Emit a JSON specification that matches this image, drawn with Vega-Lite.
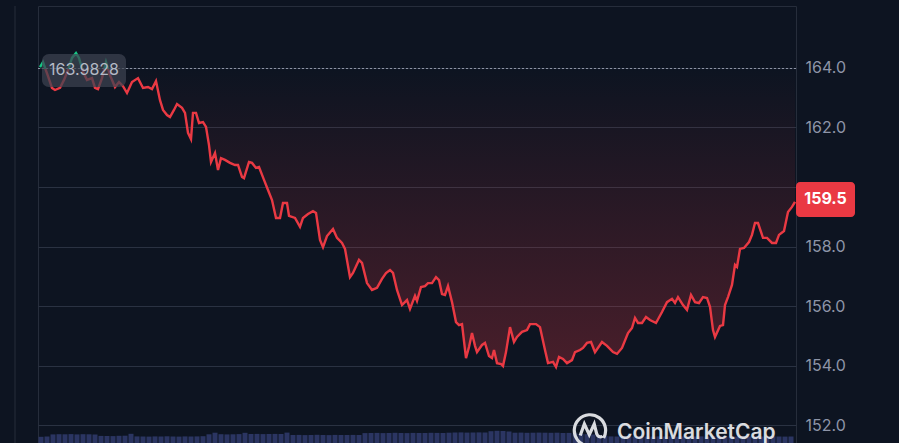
{
"$schema": "https://vega.github.io/schema/vega-lite/v6.json",
"width": 758, "height": 437,
"autosize": {"type": "none"},
"padding": {"left": 38, "top": 6, "right": 103, "bottom": 0},
"background": "#0d1421",
"config": {"view": {"stroke": "#262d3b", "strokeWidth": 1}, "font": "Inter"},
"datasets": {
"price": [
{"t":40,"p":164.03},{"t":43,"p":164.20},{"t":48,"p":163.73},{"t":52,"p":163.33},{"t":55,"p":163.26},{"t":60,"p":163.33},{"t":64,"p":163.60},{"t":68,"p":163.93},{"t":72,"p":164.34},{"t":76,"p":164.50},{"t":79,"p":164.34},{"t":83,"p":163.87},{"t":87,"p":163.60},{"t":92,"p":163.66},{"t":95,"p":163.33},{"t":98,"p":163.29},{"t":102,"p":163.66},{"t":106,"p":164.20},{"t":110,"p":163.76},{"t":115,"p":163.36},{"t":119,"p":163.53},{"t":123,"p":163.39},{"t":127,"p":163.16},{"t":132,"p":163.53},{"t":138,"p":163.66},{"t":143,"p":163.33},{"t":148,"p":163.36},{"t":152,"p":163.29},{"t":156,"p":163.56},{"t":160,"p":162.92},{"t":163,"p":162.59},{"t":167,"p":162.42},{"t":170,"p":162.35},{"t":174,"p":162.59},{"t":177,"p":162.79},{"t":182,"p":162.66},{"t":185,"p":162.49},{"t":188,"p":161.82},{"t":191,"p":161.61},{"t":193,"p":162.49},{"t":196,"p":162.49},{"t":199,"p":162.15},{"t":203,"p":162.18},{"t":206,"p":162.02},{"t":209,"p":161.41},{"t":211,"p":160.84},{"t":215,"p":161.14},{"t":218,"p":160.57},{"t":221,"p":160.97},{"t":225,"p":160.91},{"t":230,"p":160.81},{"t":235,"p":160.74},{"t":238,"p":160.74},{"t":242,"p":160.34},{"t":244,"p":160.30},{"t":249,"p":160.84},{"t":252,"p":160.81},{"t":256,"p":160.64},{"t":259,"p":160.67},{"t":264,"p":160.24},{"t":268,"p":159.90},{"t":272,"p":159.56},{"t":276,"p":158.96},{"t":280,"p":158.96},{"t":283,"p":159.46},{"t":287,"p":159.46},{"t":289,"p":159.03},{"t":295,"p":158.96},{"t":300,"p":158.66},{"t":303,"p":158.96},{"t":308,"p":159.09},{"t":313,"p":159.19},{"t":316,"p":159.13},{"t":320,"p":158.22},{"t":323,"p":157.98},{"t":327,"p":158.35},{"t":333,"p":158.59},{"t":337,"p":158.29},{"t":342,"p":158.12},{"t":345,"p":157.92},{"t":350,"p":156.97},{"t":353,"p":157.11},{"t":359,"p":157.55},{"t":362,"p":157.45},{"t":367,"p":156.77},{"t":372,"p":156.54},{"t":377,"p":156.61},{"t":382,"p":156.91},{"t":386,"p":157.11},{"t":390,"p":157.21},{"t":393,"p":157.11},{"t":397,"p":156.54},{"t":402,"p":156.03},{"t":407,"p":156.20},{"t":410,"p":155.90},{"t":415,"p":156.34},{"t":417,"p":156.17},{"t":421,"p":156.64},{"t":425,"p":156.67},{"t":428,"p":156.77},{"t":432,"p":156.77},{"t":436,"p":156.97},{"t":439,"p":156.87},{"t":442,"p":156.40},{"t":445,"p":156.37},{"t":448,"p":156.67},{"t":452,"p":156.13},{"t":456,"p":155.46},{"t":459,"p":155.36},{"t":462,"p":155.39},{"t":466,"p":154.25},{"t":469,"p":154.62},{"t":472,"p":155.09},{"t":475,"p":154.66},{"t":477,"p":154.45},{"t":482,"p":154.69},{"t":485,"p":154.76},{"t":489,"p":154.32},{"t":492,"p":154.25},{"t":494,"p":154.52},{"t":497,"p":154.08},{"t":501,"p":154.05},{"t":503,"p":153.98},{"t":506,"p":154.45},{"t":510,"p":155.29},{"t":514,"p":154.79},{"t":517,"p":154.96},{"t":522,"p":155.13},{"t":527,"p":155.19},{"t":530,"p":155.39},{"t":536,"p":155.39},{"t":540,"p":155.29},{"t":545,"p":154.52},{"t":548,"p":154.08},{"t":553,"p":154.12},{"t":556,"p":153.95},{"t":559,"p":154.29},{"t":563,"p":154.22},{"t":567,"p":154.08},{"t":572,"p":154.18},{"t":575,"p":154.45},{"t":580,"p":154.52},{"t":583,"p":154.59},{"t":587,"p":154.76},{"t":591,"p":154.79},{"t":595,"p":154.45},{"t":602,"p":154.79},{"t":607,"p":154.66},{"t":613,"p":154.45},{"t":617,"p":154.39},{"t":622,"p":154.59},{"t":628,"p":155.09},{"t":632,"p":155.26},{"t":635,"p":155.60},{"t":638,"p":155.43},{"t":642,"p":155.43},{"t":646,"p":155.63},{"t":650,"p":155.53},{"t":656,"p":155.43},{"t":662,"p":155.80},{"t":667,"p":156.13},{"t":672,"p":156.24},{"t":675,"p":156.10},{"t":678,"p":156.30},{"t":683,"p":156.03},{"t":687,"p":155.87},{"t":691,"p":156.37},{"t":695,"p":156.13},{"t":699,"p":156.10},{"t":703,"p":156.30},{"t":707,"p":156.27},{"t":710,"p":155.97},{"t":713,"p":155.19},{"t":715,"p":154.96},{"t":720,"p":155.33},{"t":723,"p":155.36},{"t":725,"p":156.03},{"t":728,"p":156.30},{"t":732,"p":156.71},{"t":735,"p":157.38},{"t":737,"p":157.31},{"t":740,"p":157.92},{"t":744,"p":157.95},{"t":749,"p":158.15},{"t":752,"p":158.39},{"t":755,"p":158.79},{"t":758,"p":158.79},{"t":763,"p":158.29},{"t":767,"p":158.29},{"t":772,"p":158.12},{"t":776,"p":158.12},{"t":779,"p":158.39},{"t":784,"p":158.52},{"t":788,"p":159.16},{"t":792,"p":159.33},{"t":795,"p":159.50}
],
"vol": [
{"t":41,"v":6.2},{"t":47,"v":6.5},{"t":53,"v":8.6},{"t":59,"v":8.8},{"t":65,"v":8.7},{"t":71,"v":8.9},{"t":77,"v":8.6},{"t":83,"v":8.8},{"t":89,"v":8.7},{"t":95,"v":8.5},{"t":101,"v":7.1},{"t":107,"v":7.0},{"t":113,"v":6.9},{"t":119,"v":7.2},{"t":125,"v":7.3},{"t":131,"v":9.2},{"t":137,"v":6.6},{"t":143,"v":6.5},{"t":149,"v":6.4},{"t":155,"v":6.6},{"t":161,"v":6.5},{"t":167,"v":6.7},{"t":173,"v":6.5},{"t":179,"v":6.4},{"t":185,"v":6.6},{"t":191,"v":6.5},{"t":197,"v":6.6},{"t":203,"v":6.8},{"t":209,"v":8.7},{"t":215,"v":10.3},{"t":221,"v":8.8},{"t":227,"v":8.6},{"t":233,"v":8.7},{"t":239,"v":8.9},{"t":245,"v":10.2},{"t":251,"v":9.0},{"t":257,"v":9.1},{"t":263,"v":8.9},{"t":269,"v":9.0},{"t":275,"v":9.1},{"t":281,"v":9.0},{"t":287,"v":10.4},{"t":293,"v":8.0},{"t":299,"v":8.1},{"t":305,"v":7.9},{"t":311,"v":8.0},{"t":317,"v":8.2},{"t":323,"v":8.0},{"t":329,"v":7.9},{"t":335,"v":8.1},{"t":341,"v":8.0},{"t":347,"v":8.0},{"t":353,"v":8.1},{"t":359,"v":8.0},{"t":365,"v":9.9},{"t":371,"v":10.0},{"t":377,"v":10.1},{"t":383,"v":9.9},{"t":389,"v":10.0},{"t":395,"v":10.2},{"t":401,"v":10.0},{"t":407,"v":9.9},{"t":413,"v":10.1},{"t":419,"v":10.0},{"t":425,"v":10.0},{"t":431,"v":10.2},{"t":437,"v":10.1},{"t":443,"v":10.0},{"t":449,"v":10.3},{"t":455,"v":10.5},{"t":461,"v":10.6},{"t":467,"v":10.4},{"t":473,"v":10.5},{"t":479,"v":10.6},{"t":485,"v":10.5},{"t":491,"v":11.8},{"t":497,"v":12.2},{"t":503,"v":12.0},{"t":509,"v":11.5},{"t":515,"v":10.3},{"t":521,"v":10.4},{"t":527,"v":10.2},{"t":533,"v":10.3},{"t":539,"v":10.4},{"t":545,"v":10.3},{"t":551,"v":10.2},{"t":557,"v":10.3},{"t":563,"v":10.0},{"t":569,"v":10.1},{"t":575,"v":9.5},{"t":581,"v":9.0},{"t":587,"v":8.8},{"t":593,"v":8.5},{"t":599,"v":8.0},{"t":605,"v":7.0},{"t":611,"v":6.6},{"t":617,"v":6.5},{"t":623,"v":6.6},{"t":629,"v":6.4},{"t":635,"v":6.5},{"t":641,"v":6.7},{"t":647,"v":6.5},{"t":653,"v":6.4},{"t":659,"v":6.6},{"t":665,"v":6.5},{"t":671,"v":6.6},{"t":677,"v":6.4},{"t":683,"v":6.5},{"t":689,"v":6.7},{"t":695,"v":6.5},{"t":701,"v":6.6},{"t":707,"v":6.4},{"t":713,"v":6.8},{"t":719,"v":6.5},{"t":725,"v":6.6},{"t":731,"v":6.5},{"t":737,"v":6.4},{"t":743,"v":6.6},{"t":749,"v":6.5},{"t":755,"v":6.7},{"t":761,"v":6.5},{"t":767,"v":6.4},{"t":773,"v":6.6},{"t":779,"v":6.5},{"t":785,"v":6.4},{"t":791,"v":6.5}
]
},
"layer": [
{
"data": {"name": "vol"},
"mark": {"type": "bar", "size": 5, "color": "#2b3562"},
"encoding": {
"x": {"field": "t", "type": "quantitative", "scale": {"domain": [38, 796], "padding": 0}, "axis": null},
"y": {"field": "v", "type": "quantitative", "scale": {"domain": [0, 437], "padding": 0}, "axis": null}
}
},
{
"data": {"name": "price"},
"layer": [
{
"mark": {"type": "area", "fill": {"gradient": "linear", "x1": 0, "y1": 0, "x2": 0, "y2": 1, "stops": [{"offset": 0, "color": "rgba(22,199,132,0.22)"}, {"offset": 0.049, "color": "rgba(22,199,132,0.0)"}, {"offset": 0.05, "color": "rgba(234,57,67,0.0)"}, {"offset": 1, "color": "rgba(234,57,67,0.27)"}]}},
"encoding": {
"x": {"field": "t", "type": "quantitative", "scale": {"domain": [38, 796], "padding": 0}, "axis": null},
"y": {"field": "p", "type": "quantitative", "scale": {"domain": [151.395, 166.084], "nice": false, "zero": false, "padding": 0}, "axis": {"orient": "right", "values": [152, 154, 156, 158, 160, 162, 164], "format": ".1f", "labelExpr": "datum.value == 160 ? '' : datum.label", "labelColor": "#8e95a8", "labelFontSize": 16, "labelFont": "Inter", "labelPadding": 9, "ticks": false, "domain": false, "grid": true, "gridColor": "#2a3242", "gridWidth": 1, "title": null, "labelAlign": "left", "labelBaseline": "middle"}},
"y2": {"datum": 163.9828}
}
},
{
"mark": {"type": "line", "strokeWidth": 2.4, "interpolate": "linear", "stroke": {"gradient": "linear", "x1": 0, "y1": 0, "x2": 0, "y2": 1, "stops": [{"offset": 0, "color": "#16c784"}, {"offset": 0.049, "color": "#16c784"}, {"offset": 0.0491, "color": "#ea3943"}, {"offset": 1, "color": "#ea3943"}]}},
"encoding": {
"x": {"field": "t", "type": "quantitative", "scale": {"domain": [38, 796], "padding": 0}, "axis": null},
"y": {"field": "p", "type": "quantitative", "scale": {"domain": [151.395, 166.084], "nice": false, "zero": false, "padding": 0}}
}
},
{
"data": {"values": [{}]},
"mark": {"type": "rule", "color": "#8d93a3", "strokeDash": [2, 2], "strokeWidth": 1},
"encoding": {
"y": {"datum": 163.9828, "type": "quantitative", "scale": {"domain": [151.395, 166.084], "nice": false, "zero": false, "padding": 0}}
}
},
{
"data": {"values": [{}]},
"mark": {"type": "rule", "color": "#262d3b", "strokeWidth": 1},
"encoding": {
"x": {"datum": 15, "type": "quantitative", "scale": {"domain": [38, 796], "padding": 0}, "axis": null}
}
},
{
"data": {"values": [{}]},
"mark": {"type": "rect", "fill": "#3d4250", "opacity": 0.72, "cornerRadius": 7},
"encoding": {
"x": {"datum": 42, "type": "quantitative", "scale": {"domain": [38, 796], "padding": 0}, "axis": null},
"x2": {"datum": 126},
"y": {"datum": 164.47, "type": "quantitative", "scale": {"domain": [151.395, 166.084], "nice": false, "zero": false, "padding": 0}},
"y2": {"datum": 163.36}
}
},
{
"data": {"values": [{}]},
"mark": {"type": "text", "color": "#b4b9c5", "fontSize": 16, "font": "Inter", "align": "center", "baseline": "middle"},
"encoding": {
"x": {"datum": 84, "type": "quantitative", "scale": {"domain": [38, 796], "padding": 0}, "axis": null},
"y": {"datum": 163.92, "type": "quantitative", "scale": {"domain": [151.395, 166.084], "nice": false, "zero": false, "padding": 0}},
"text": {"value": "163.9828"}
}
},
{
"data": {"values": [{}]},
"mark": {"type": "rect", "fill": "#ea3943", "cornerRadius": 4},
"encoding": {
"x": {"datum": 796, "type": "quantitative", "scale": {"domain": [38, 796], "padding": 0}, "axis": null},
"x2": {"datum": 855},
"y": {"datum": 160.17, "type": "quantitative", "scale": {"domain": [151.395, 166.084], "nice": false, "zero": false, "padding": 0}},
"y2": {"datum": 158.99}
}
},
{
"data": {"values": [{}]},
"mark": {"type": "text", "color": "#ffffff", "fontSize": 16, "fontWeight": "bold", "font": "Inter", "align": "center", "baseline": "middle"},
"encoding": {
"x": {"datum": 825.5, "type": "quantitative", "scale": {"domain": [38, 796], "padding": 0}, "axis": null},
"y": {"datum": 159.58, "type": "quantitative", "scale": {"domain": [151.395, 166.084], "nice": false, "zero": false, "padding": 0}},
"text": {"value": "159.5"}
}
},
{
"data": {"values": [{}]},
"mark": {"type": "point", "filled": false, "stroke": "#e4e6ea", "strokeWidth": 3.2, "opacity": 0.95, "size": 1089, "shape": "M0.5,0.87 A0.95,0.95 0 1,1 0.87,0.5 M-0.55,0.35 L-0.3,-0.35 L0,0.3 L0.3,-0.35 L0.45,0.25 Q0.55,0.5 0.8,0.4"},
"encoding": {
"x": {"datum": 589.3, "type": "quantitative", "scale": {"domain": [38, 796], "padding": 0}, "axis": null},
"y": {"datum": 151.84, "type": "quantitative", "scale": {"domain": [151.395, 166.084], "nice": false, "zero": false, "padding": 0}}
}
},
{
"data": {"values": [{}]},
"mark": {"type": "text", "color": "#e4e6ea", "opacity": 0.95, "fontSize": 21, "fontWeight": 600, "font": "Inter", "align": "left", "baseline": "alphabetic"},
"encoding": {
"x": {"datum": 617, "type": "quantitative", "scale": {"domain": [38, 796], "padding": 0}, "axis": null},
"y": {"datum": 151.513, "type": "quantitative", "scale": {"domain": [151.395, 166.084], "nice": false, "zero": false, "padding": 0}},
"text": {"value": "CoinMarketCap"}
}
}
]
}
],
"resolve": {"scale": {"y": "independent"}}
}
